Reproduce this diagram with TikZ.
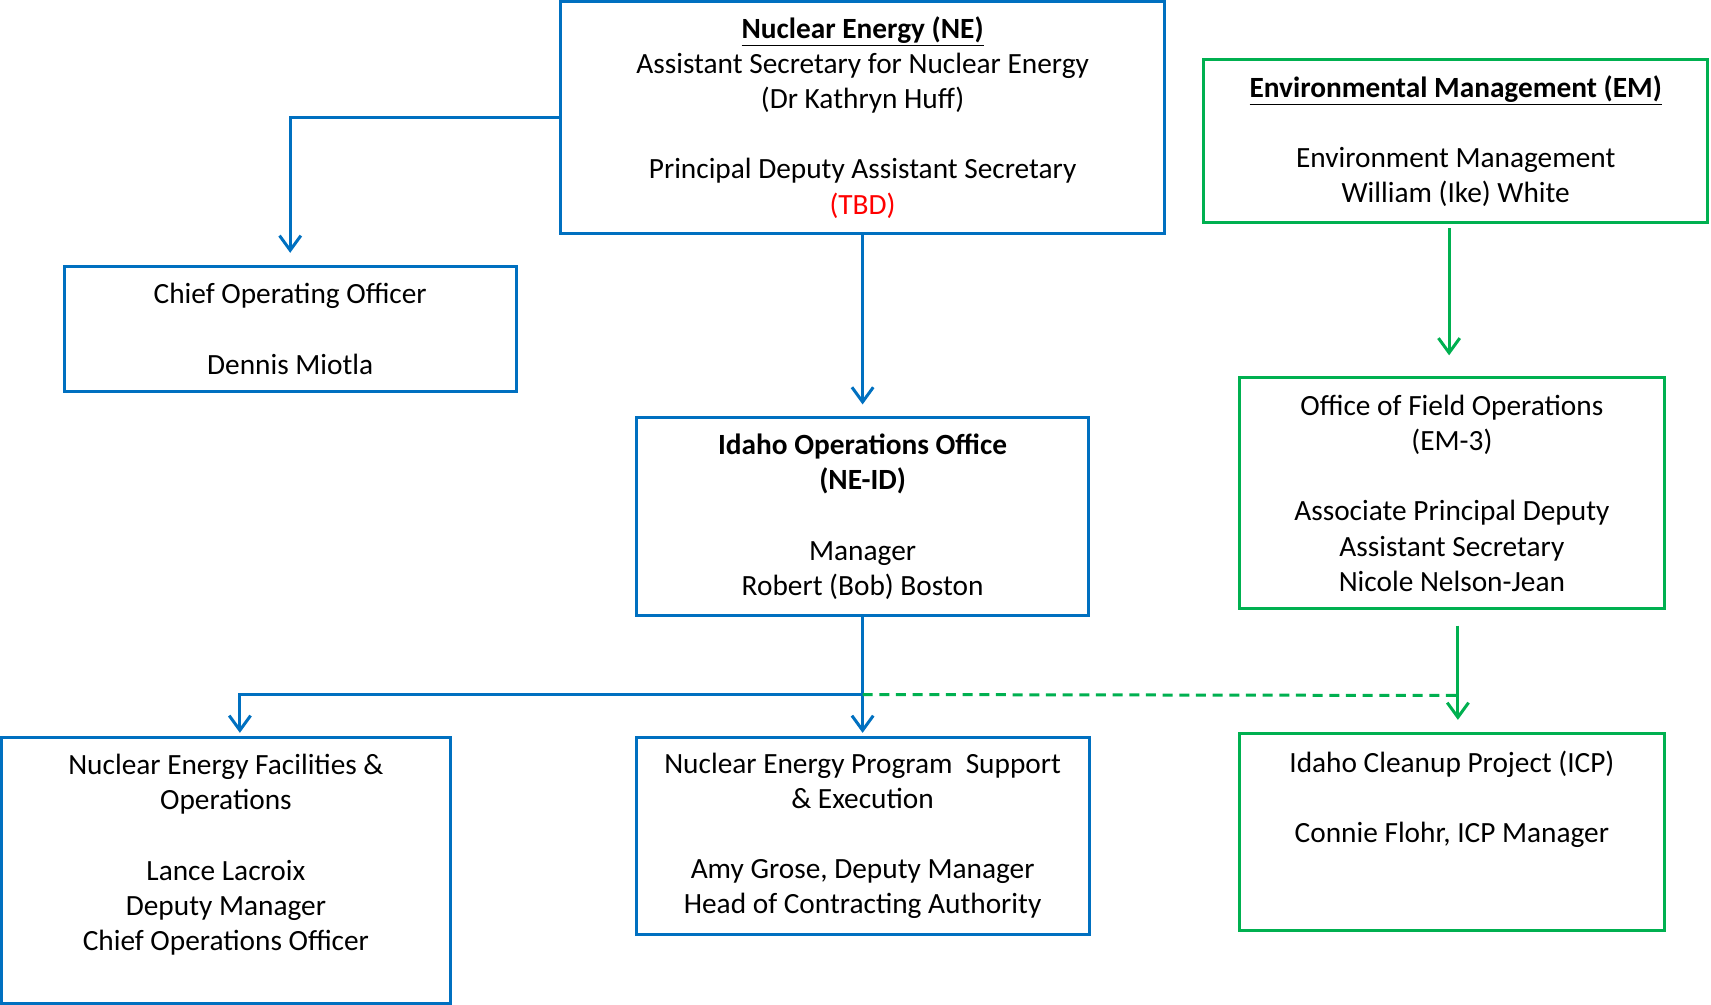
\documentclass[tikz,border=0pt]{standalone}
\usepackage{fontspec}
\setmainfont{Carlito}
\usetikzlibrary{arrows.meta}

\definecolor{neblue}{RGB}{0,112,192}
\definecolor{emgreen}{RGB}{0,176,80}

\tikzset{every picture/.style={line width=2.25pt}}
\tikzset{
  bluebox/.style={draw=neblue, rectangle, inner sep=0pt, align=center, font=\fontsize{22}{26.4}\selectfont},
  greenbox/.style={bluebox, draw=emgreen},
  bluearr/.style={draw=neblue, -{Straight Barb[length=11pt,width=16pt]}},
  greenarr/.style={bluearr, draw=emgreen},
}

\begin{document}
\begin{tikzpicture}[x=0.75pt,y=0.75pt,yscale=-1,xscale=1]
\useasboundingbox (0,0) rectangle (1711,1005);

% Text Node
\node[bluebox, minimum width=452.5pt, minimum height=174.3pt] (ne) at (862.6,117.3) {\underline{\textbf{Nuclear Energy (NE)}}\\Assistant Secretary for Nuclear Energy\\(Dr Kathryn Huff)\\[26.4pt]Principal Deputy Assistant Secretary\\\textcolor{red}{(TBD)}};
% Text Node
\node[bluebox, minimum width=338.8pt, minimum height=94pt] (coo) at (290.2,329) {Chief Operating Officer\\[26.4pt]Dennis Miotla};
% Text Node
\node[bluebox, minimum width=338.8pt, minimum height=148.1pt] (idaho) at (862.6,516.7) {\textbf{Idaho Operations Office}\\\textbf{(NE-ID)}\\[26.4pt]Manager\\Robert (Bob) Boston};
% Text Node
\node[bluebox, minimum width=337.2pt, minimum height=199.7pt] (nefo) at (225.9,870.8) {Nuclear Energy Facilities \&\\Operations\\[26.4pt]Lance Lacroix\\Deputy Manager\\Chief Operations Officer\\[-7pt]\strut};
% Text Node
\node[bluebox, minimum width=339.6pt, minimum height=147.3pt] (nepse) at (862.6,835.9) {Nuclear Energy Program\ \ Support\\\& Execution\\[26.4pt]Amy Grose, Deputy Manager\\Head of Contracting Authority};
% Text Node
\node[greenbox, minimum width=378.1pt, minimum height=122pt] (em) at (1455.7,141.3) {\underline{\textbf{Environmental Management (EM)}}\\[26.4pt]Environment Management\\William (Ike) White};
% Text Node
\node[greenbox, minimum width=318.4pt, minimum height=173.5pt] (ofo) at (1451.9,493.2) {Office of Field Operations\\(EM-3)\\[26.4pt]Associate Principal Deputy\\Assistant Secretary\\Nicole Nelson-Jean};
% Text Node
\node[greenbox, minimum width=318.4pt, minimum height=148.1pt] (icp) at (1451.9,832.1) {Idaho Cleanup Project (ICP)\\[26.4pt]Connie Flohr, ICP Manager\\[19pt]\strut};

\coordinate (split) at (862.6,694.5);
\coordinate (join) at (1457.9,695.5);
\coordinate (emfoot) at (1449.1,378);

%Straight Lines
\draw[bluearr, shorten >=9pt] (ne.west) -| (coo.north);
\draw[bluearr, shorten >=9pt] (ne.south) -- (idaho.north);
\draw[bluearr, shorten >=2.5pt] (idaho.south) -- (nepse.north);
\draw[bluearr, shorten >=2.5pt] (split) -| ([xshift=10.5pt]nefo.north);

%Straight Lines
\draw[greenarr, shorten <=3pt, shorten >=17pt] (emfoot |- em.south) -- (emfoot);
\draw[greenarr, shorten <=11.5pt, shorten >=9pt] ([xshift=4.5pt]ofo.south) -- ([xshift=4.5pt]icp.north);
\draw[emgreen, dash pattern=on 7.5pt off 5pt] (split) -- (join);

\end{tikzpicture}
\end{document}
